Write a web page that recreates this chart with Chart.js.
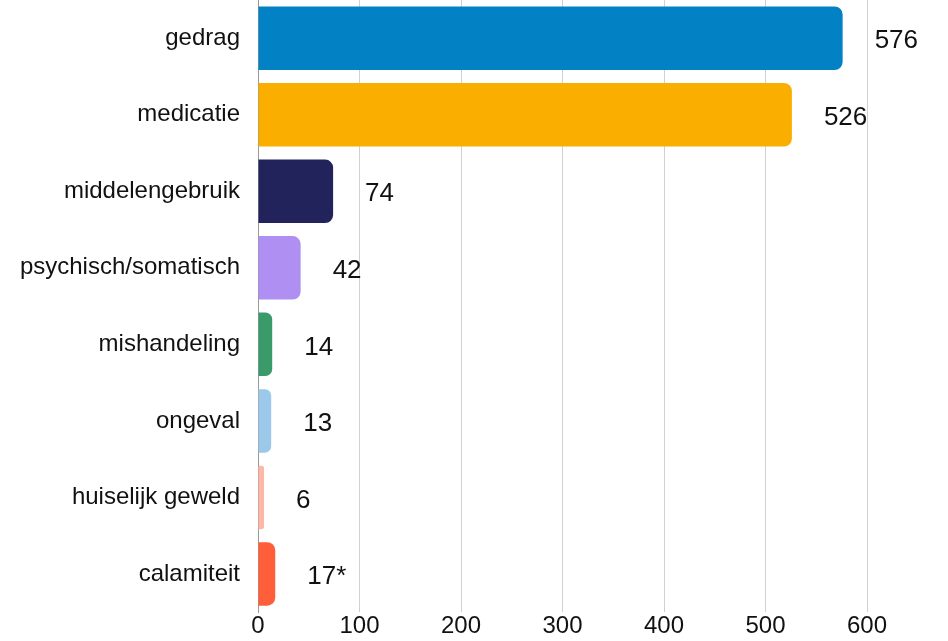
<!DOCTYPE html>
<html>
<head>
<meta charset="utf-8">
<script src="https://cdn.jsdelivr.net/npm/chart.js@4"></script>
<style>
  html, body { margin: 0; padding: 0; background: #fff; }
  #wrap { width: 948px; height: 641px; }
</style>
</head>
<body>
<div id="wrap"><canvas id="meldingenBar"></canvas></div>
<script>
// categories and values
const categories = ['gedrag', 'medicatie', 'middelengebruik', 'psychisch/somatisch', 'mishandeling', 'ongeval', 'huiselijk geweld', 'calamiteit'];
const counts = [576, 526, 74, 42, 14, 13, 6, 17];
const valueLabels = ['576', '526', '74', '42', '14', '13', '6', '17*'];
const barColors = ['#0282C4', '#F9AE00', '#23235B', '#B08FF2', '#3A9A6A', '#9CC8EA', '#FFB8A8', '#FF5E3A'];
const xTicks = [0, 100, 200, 300, 400, 500, 600];

// draws the numbers next to the bars
const valueLabelPlugin = {
  id: 'valueLabels',
  afterDatasetsDraw(chart) {
    const ctx = chart.ctx;
    const meta = chart.getDatasetMeta(0);
    ctx.save();
    ctx.font = '26px "Liberation Sans", Arial, sans-serif';
    ctx.fillStyle = '#111';
    ctx.textAlign = 'left';
    ctx.textBaseline = 'middle';
    meta.data.forEach((bar, i) => {
      ctx.fillText(valueLabels[i], bar.x + 32, bar.y + 3);
    });
    ctx.restore();
  }
};

const ctx = document.getElementById('meldingenBar').getContext('2d');
const myBarChart = new Chart(ctx, {
  type: 'bar',
  data: {
    labels: categories,
    datasets: [{
      data: counts,
      backgroundColor: barColors,
      borderRadius: 8,
      borderSkipped: 'start',
      barPercentage: 0.83,
      categoryPercentage: 1
    }]
  },
  options: {
    indexAxis: 'y',
    responsive: true,
    maintainAspectRatio: false,
    animation: false,
    layout: { padding: { left: 0, right: 81, top: 0, bottom: 0 } },
    plugins: {
      legend: { display: false },
      tooltip: { enabled: false }
    },
    scales: {
      x: {
        min: 0,
        max: 600,
        afterBuildTicks: (scale) => { scale.ticks = xTicks.map(v => ({ value: v })); },
        grid: { color: '#d0d0d0', drawTicks: false },
        border: { display: false },
        ticks: {
          padding: 0,
          color: '#111',
          font: { family: '"Liberation Sans", Arial, sans-serif', size: 24 }
        }
      },
      y: {
        afterFit: (scale) => {
          scale.width = 258;
          scale.paddingTop = 0;
          scale.paddingBottom = 0;
        },
        grid: { display: false, drawTicks: false },
        border: { display: true, color: '#999', width: 1 },
        ticks: {
          padding: 18,
          color: '#111',
          font: { family: '"Liberation Sans", Arial, sans-serif', size: 24 }
        }
      }
    }
  },
  plugins: [valueLabelPlugin]
});
</script>
</body>
</html>
